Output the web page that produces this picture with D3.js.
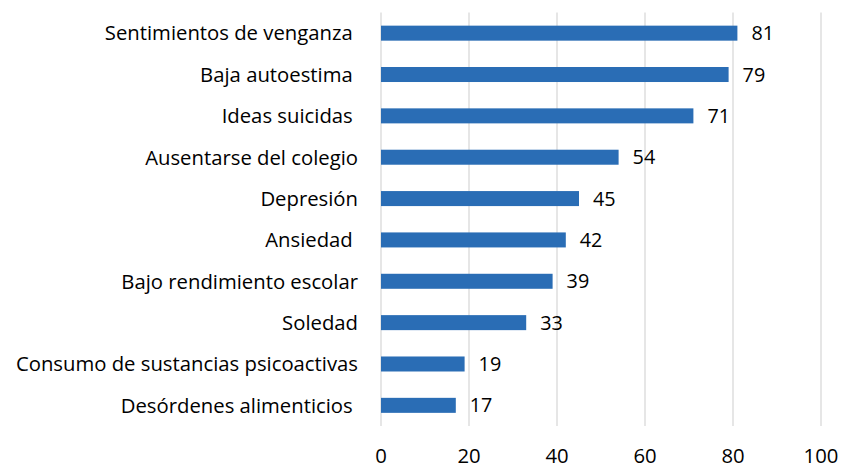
<!DOCTYPE html>
<html><head><meta charset="utf-8">
<script src="https://cdn.jsdelivr.net/npm/d3@7"></script>
<style>body{margin:0;background:#fff}text{white-space:pre}</style>
</head><body>
<svg id="c" width="841" height="466"></svg>
<script>
const categories = ["Sentimientos de venganza ","Baja autoestima ","Ideas suicidas ","Ausentarse del colegio","Depresión","Ansiedad ","Bajo rendimiento escolar","Soledad","Consumo de sustancias psicoactivas","Desórdenes alimenticios "];
const values = [81,79,71,54,45,42,39,33,19,17];
const ticks = [0,20,40,60,80,100];

const svg = d3.select("#c");
const font = "'Open Sans', sans-serif";
const fs = 20.3;
const x = d3.scaleLinear().domain([0,100]).range([381,821]);
const y = d3.scaleBand().domain(categories).range([12.5,426]).paddingInner(0.637).paddingOuter(0.318);

svg.append("g").selectAll("line").data(ticks).join("line")
  .attr("x1",d=>x(d)).attr("x2",d=>x(d)).attr("y1",12.5).attr("y2",426)
  .attr("stroke","#d9d9d9").attr("stroke-width",1.3);

svg.append("g").selectAll("rect").data(values).join("rect")
  .attr("x",x(0)).attr("y",(d,i)=>y(categories[i]))
  .attr("width",d=>x(d)-x(0)).attr("height",y.bandwidth())
  .attr("fill","#2a6db5");

svg.append("g").selectAll("text").data(values).join("text")
  .attr("x",d=>x(d)+14).attr("y",(d,i)=>y(categories[i])+y.bandwidth()/2)
  .attr("dy","0.36em").attr("font-family",font).attr("font-size",fs-0.5).attr("fill","#000")
  .text(d=>d);

svg.append("g").selectAll("text").data(categories).join("text")
  .attr("x",358).attr("y",d=>y(d)+y.bandwidth()/2).attr("dy","0.36em")
  .attr("text-anchor","end").attr("font-family",font).attr("font-size",fs).attr("fill","#000")
  .text(d=>d);

svg.append("g").selectAll("text").data(ticks).join("text")
  .attr("x",d=>x(d)).attr("y",463).attr("text-anchor","middle")
  .attr("font-family",font).attr("font-size",fs).attr("fill","#000")
  .text(d=>d);
</script>
</body></html>
